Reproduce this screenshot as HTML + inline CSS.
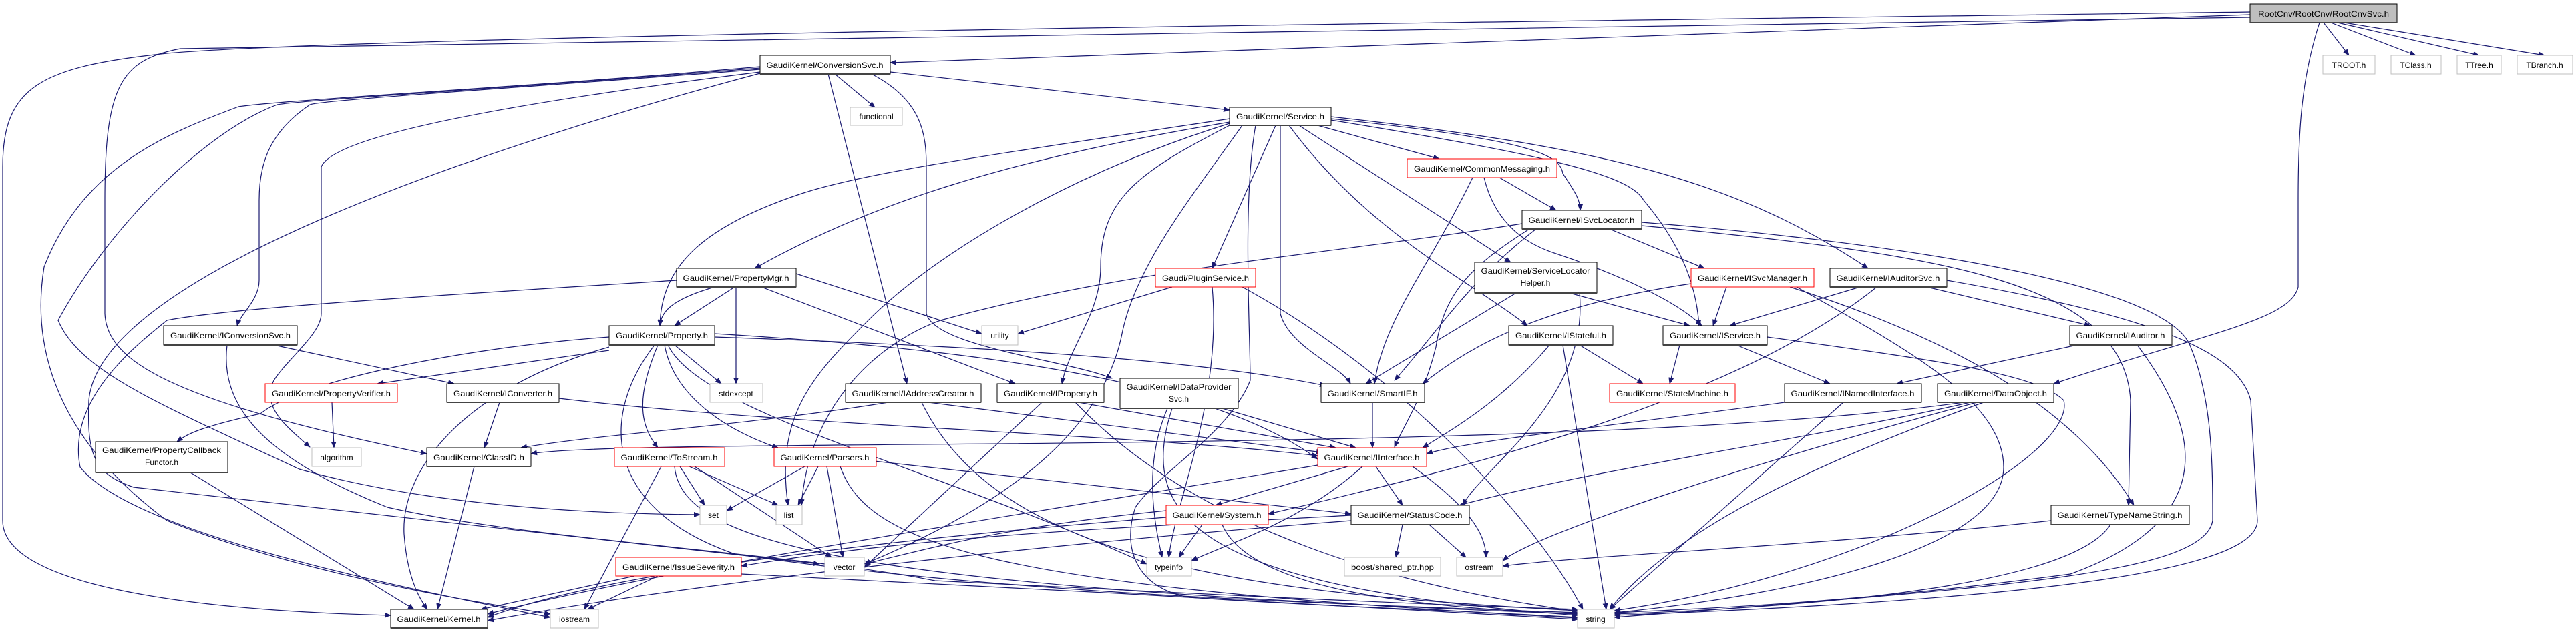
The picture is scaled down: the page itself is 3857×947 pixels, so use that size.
<!DOCTYPE html>
<html><head><meta charset="utf-8"><style>
html,body{margin:0;padding:0;background:#fff;}
svg{display:block;}
text{font-family:"Liberation Sans",sans-serif;font-size:12px;fill:#000;}
.e{fill:none;stroke:#191970;stroke-width:1.2;marker-end:url(#a);}
.n rect{fill:#fff;stroke:#000;stroke-width:1;}
.l rect{fill:#fff;stroke:#bfbfbf;stroke-width:1;}
.r rect{fill:#fff;stroke:#ff0000;stroke-width:1;}
.sh{stroke:#444;stroke-width:2;}
</style></head><body>
<svg width="3857" height="947" viewBox="0 0 3857 947" xmlns="http://www.w3.org/2000/svg">
<defs><marker id="a" markerWidth="10" markerHeight="8" refX="9" refY="4" orient="auto" markerUnits="userSpaceOnUse"><path d="M0,0 L10,4 L0,8 z" fill="#191970"/></marker></defs>
<g>
<!-- Root -->
<path class="e" d="M3479,34 L3517,83"/>
<path class="e" d="M3490,34 L3617,83"/>
<path class="e" d="M3500,34 L3712,83"/>
<path class="e" d="M3510,34 L3810,83"/>
<path class="e" d="M3369,22 L1333,94"/>
<path class="e" d="M3473,34 C3445,120 3441,200 3441,300 L3441,430 C3430,480 3300,500 3075,575"/>
<path class="e" d="M3369,18 C2500,30 600,50 250,80 C60,100 4,130 4,250 L4,780 C4,880 300,915 585,922"/>
<path class="e" d="M3369,26 C2500,40 1000,60 270,73 C180,90 157,130 157,300 L157,470 C160,540 250,600 639,680"/>
<!-- ConversionSvc -->
<path class="e" d="M1333,108 L1841,165"/>
<path class="e" d="M1250,111 L1310,161"/>
<path class="e" d="M1138,100 C800,130 420,150 357,160 C250,200 124,250 66,400 C40,560 124,687 250,780 C450,860 700,900 824,920"/>
<path class="e" d="M1138,102 C800,130 450,150 415,157 C300,200 157,350 87,480 C120,560 257,613 448,703 C650,760 900,770 1048,771"/>
<path class="e" d="M1138,104 C800,130 480,150 464,157 C400,200 388,250 388,300 L388,420 C388,450 360,470 355,488"/>
<path class="e" d="M1138,108 C800,150 500,200 481,250 L481,470 C481,500 431,537 410,570 C390,610 430,640 464,670"/>
<path class="e" d="M1138,110 C800,200 150,400 133,600 C130,680 140,710 200,730 L1227,845"/>
<path class="e" d="M1240,111 L1358,575"/>
<path class="e" d="M1305,111 C1380,150 1387,200 1387,250 L1387,470 C1400,520 1600,540 1665,567"/>
<!-- Service -->
<path class="e" d="M1841,178 C1500,230 1300,257 1200,290 C1050,340 990,400 988,488"/>
<path class="e" d="M1841,183 C1500,240 1300,307 1130,402"/>
<path class="e" d="M1841,185 C1600,260 1400,380 1300,480 C1220,560 1160,620 1180,757"/>
<path class="e" d="M1841,188 C1700,260 1648,300 1648,400 C1648,470 1600,520 1590,575"/>
<path class="e" d="M1860,188 C1780,300 1700,400 1680,500 C1650,650 1500,760 1294,845"/>
<path class="e" d="M1910,188 L1815,402"/>
<path class="e" d="M1917,188 L1917,470 C1930,520 2010,550 2022,575"/>
<path class="e" d="M1930,188 C2050,350 2200,420 2287,488"/>
<path class="e" d="M1945,188 L2262,393"/>
<path class="e" d="M1973,188 L2155,238"/>
<path class="e" d="M1993,178 C2300,210 2336,233 2340,260 C2360,290 2366,300 2366,315"/>
<path class="e" d="M1993,180 C2300,230 2440,260 2461,300 C2520,370 2540,430 2544,488"/>
<path class="e" d="M1993,175 C2400,220 2600,270 2797,402"/>
<path class="e" d="M1880,188 C1860,300 1872,500 1872,570 C1840,650 1740,703 1700,760 C1680,820 1700,880 1780,895 C2000,910 2200,915 2362,925"/>
<!-- CommonMessaging -->
<path class="e" d="M2245,266 L2330,315"/>
<path class="e" d="M2205,266 C2140,400 2071,480 2058,575"/>
<path class="e" d="M2222,266 C2240,340 2290,367 2330,380 C2450,420 2520,460 2548,488"/>
<!-- ISvcLocator -->
<path class="e" d="M2410,343 L2552,402"/>
<path class="e" d="M2458,333 C2800,360 3245,420 3280,520 C3313,600 3313,700 3313,780 C3300,860 3000,880 2417,925"/>
<path class="e" d="M2458,338 C2900,380 3180,420 3190,600 L3187,757"/>
<path class="e" d="M2279,335 C2000,380 1700,400 1408,480 C1300,520 1210,620 1200,757"/>
<path class="e" d="M2290,343 C2200,400 2162,440 2150,520 C2130,600 2100,640 2088,670"/>
<path class="e" d="M2300,343 C2200,420 2150,500 2088,570"/>
<!-- ISvcManager -->
<path class="e" d="M2585,430 L2565,488"/>
<path class="e" d="M2532,425 C2300,460 2200,520 2130,575"/>
<path class="e" d="M2680,430 C2900,500 3100,600 3195,757"/>
<path class="e" d="M2690,430 C2850,520 3000,600 3000,700 C3000,820 2700,890 2417,918"/>
<!-- IAuditorSvc -->
<path class="e" d="M2785,430 L2590,488"/>
<path class="e" d="M2885,430 L3130,488"/>
<path class="e" d="M2810,430 C2600,600 2200,700 1899,770"/>
<path class="e" d="M2915,420 C3200,470 3350,520 3370,600 L3380,780 C3380,860 3000,900 2417,922"/>
<!-- IStateful -->
<path class="e" d="M2365,517 L2460,575"/>
<path class="e" d="M2320,517 C2250,600 2180,640 2130,671"/>
<path class="e" d="M2340,517 L2405,913"/>
<!-- IService -->
<path class="e" d="M2515,517 L2500,575"/>
<path class="e" d="M2600,517 L2740,575"/>
<path class="e" d="M2646,505 C2900,540 3050,560 3090,600 C3110,680 2800,860 2417,915"/>
<!-- INamedInterface, IAuditor, DataObject, TypeNameString -->
<path class="e" d="M2672,603 C2400,640 2200,660 2136,680"/>
<path class="e" d="M2760,603 L2410,913"/>
<path class="e" d="M3110,517 L2840,575"/>
<path class="e" d="M3200,517 C3300,650 3320,780 3100,860 C2800,900 2600,910 2417,918"/>
<path class="e" d="M2940,603 C2600,650 2000,660 1500,665 C1100,668 850,670 795,680"/>
<path class="e" d="M2950,603 C2700,660 2400,700 2185,757"/>
<path class="e" d="M2960,603 C2600,700 2300,800 2250,840"/>
<path class="e" d="M2970,603 C2700,700 2500,800 2410,913"/>
<path class="e" d="M3071,780 C2700,820 2400,830 2250,848"/>
<path class="e" d="M3160,786 C3100,880 2700,910 2417,920"/>
<!-- SmartIF / IInterface -->
<path class="e" d="M2055,603 L2055,671"/>
<path class="e" d="M2018,699 L1820,757"/>
<path class="e" d="M2060,699 L2100,757"/>
<path class="e" d="M2040,699 C1950,780 1850,810 1784,840"/>
<path class="e" d="M2115,699 C2200,760 2225,800 2225,835"/>
<path class="e" d="M1973,697 C1600,760 1000,850 730,920"/>
<!-- System / StatusCode -->
<path class="e" d="M1746,775 C1300,810 900,860 730,925"/>
<path class="e" d="M1800,786 L1765,835"/>
<path class="e" d="M1830,786 C1870,880 2100,910 2362,920"/>
<path class="e" d="M1746,765 C1500,790 1400,820 1294,845"/>
<path class="e" d="M2100,786 L2090,835"/>
<path class="e" d="M2140,786 L2195,835"/>
<path class="e" d="M2023,772 C1700,790 1400,800 1110,848"/>
<path class="e" d="M2023,780 C1500,820 1000,880 730,930"/>
<!-- IssueSeverity -->
<path class="e" d="M950,863 L720,913"/>
<path class="e" d="M985,863 L880,913"/>
<path class="e" d="M1110,860 C1500,880 2000,905 2362,928"/>
<!-- PluginService -->
<path class="e" d="M1755,430 L1524,500"/>
<path class="e" d="M1815,430 C1830,600 1760,750 1750,835"/>
<path class="e" d="M1860,430 C2100,560 2300,780 2370,913"/>
<!-- ServiceLocatorHelper -->
<path class="e" d="M2270,439 L2045,575"/>
<path class="e" d="M2350,439 L2530,488"/>
<path class="e" d="M2365,439 C2380,600 2220,700 2190,757"/>
<!-- PropertyMgr -->
<path class="e" d="M1100,430 L1010,488"/>
<path class="e" d="M1070,430 C1000,450 990,470 988,488"/>
<path class="e" d="M1192,410 L1470,500"/>
<path class="e" d="M1102,430 L1102,575"/>
<path class="e" d="M1140,430 L1520,575"/>
<path class="e" d="M1013,420 C700,440 350,460 250,480 C200,520 100,600 120,700 C200,800 600,880 824,925"/>
<!-- Property -->
<path class="e" d="M912,525 L565,575"/>
<path class="e" d="M912,505 C700,520 450,570 390,620 C300,640 280,650 265,662"/>
<path class="e" d="M912,520 C700,580 600,700 605,800 C610,870 630,900 640,913"/>
<path class="e" d="M1010,517 L1080,575"/>
<path class="e" d="M985,517 C950,600 960,640 985,671"/>
<path class="e" d="M995,517 C1010,600 1100,650 1165,671"/>
<path class="e" d="M1070,505 C1500,520 1800,540 1985,578"/>
<path class="e" d="M1070,500 C1400,520 1800,560 1973,688"/>
<path class="e" d="M1000,517 C1050,620 1400,700 1717,845"/>
<path class="e" d="M980,517 C900,620 900,760 1100,830 C1500,890 2000,905 2362,918"/>
<!-- IConversionSvc etc -->
<path class="e" d="M410,517 L680,575"/>
<path class="e" d="M340,517 C330,600 380,680 580,760 C800,810 1200,830 1400,870 C1800,890 2100,905 2362,913"/>
<path class="e" d="M748,603 L725,671"/>
<path class="e" d="M837,597 C1200,640 1700,650 1973,683"/>
<path class="e" d="M497,603 L500,671"/>
<path class="e" d="M285,708 L620,913"/>
<path class="e" d="M710,699 L655,913"/>
<!-- ToStream -->
<path class="e" d="M1018,699 L1055,757"/>
<path class="e" d="M1032,699 L1165,757"/>
<path class="e" d="M1040,699 L1245,835"/>
<path class="e" d="M990,699 L875,913"/>
<path class="e" d="M1010,699 C1020,820 1300,880 2362,920"/>
<!-- Parsers -->
<path class="e" d="M1205,699 L1088,765"/>
<path class="e" d="M1225,699 L1195,757"/>
<path class="e" d="M1238,699 L1262,835"/>
<path class="e" d="M1300,690 L2023,770"/>
<path class="e" d="M1258,699 C1300,820 1500,880 2362,926"/>
<!-- IAddressCreator, IProperty, IDataProviderSvc -->
<path class="e" d="M1330,603 C1100,640 900,650 780,671"/>
<path class="e" d="M1390,603 L1980,678"/>
<path class="e" d="M1380,603 C1500,850 1900,890 2362,915"/>
<path class="e" d="M1615,603 L2000,671"/>
<path class="e" d="M1560,603 L1294,850"/>
<path class="e" d="M1610,603 C1800,800 2100,880 2362,916"/>
<path class="e" d="M1830,612 L2030,671"/>
<path class="e" d="M1748,612 C1710,700 1730,790 1740,835"/>
<path class="e" d="M1755,612 C1700,780 1800,880 2362,922"/>
</g>
<!-- Nodes -->
<g class="n"><rect x="3369" y="6" width="220" height="28" style="fill:#bfbfbf"/><line class="sh" x1="3369" y1="34" x2="3589" y2="34"/><text x="3479" y="25" text-anchor="middle" textLength="196" lengthAdjust="spacingAndGlyphs">RootCnv/RootCnv/RootCnvSvc.h</text></g>
<g class="l"><rect x="3478" y="83" width="78" height="28"/><text x="3517" y="102" text-anchor="middle">TROOT.h</text></g>
<g class="l"><rect x="3580" y="83" width="75" height="28"/><text x="3617" y="102" text-anchor="middle">TClass.h</text></g>
<g class="l"><rect x="3679" y="83" width="66" height="28"/><text x="3712" y="102" text-anchor="middle">TTree.h</text></g>
<g class="l"><rect x="3769" y="83" width="83" height="28"/><text x="3810" y="102" text-anchor="middle">TBranch.h</text></g>

<g class="n"><rect x="1138" y="83" width="195" height="28"/><line class="sh" x1="1138" y1="111" x2="1333" y2="111"/><text x="1235" y="102" text-anchor="middle" textLength="175" lengthAdjust="spacingAndGlyphs">GaudiKernel/ConversionSvc.h</text></g>
<g class="l"><rect x="1273" y="161" width="78" height="27"/><text x="1312" y="179" text-anchor="middle">functional</text></g>
<g class="n"><rect x="1841" y="161" width="152" height="27"/><line class="sh" x1="1841" y1="188" x2="1993" y2="188"/><text x="1917" y="179" text-anchor="middle" textLength="132" lengthAdjust="spacingAndGlyphs">GaudiKernel/Service.h</text></g>
<g class="r"><rect x="2107" y="238" width="224" height="28"/><text x="2219" y="257" text-anchor="middle" textLength="204" lengthAdjust="spacingAndGlyphs">GaudiKernel/CommonMessaging.h</text></g>
<g class="n"><rect x="2279" y="315" width="179" height="28"/><line class="sh" x1="2279" y1="343" x2="2458" y2="343"/><text x="2368" y="334" text-anchor="middle" textLength="159" lengthAdjust="spacingAndGlyphs">GaudiKernel/ISvcLocator.h</text></g>
<g class="r"><rect x="1730" y="402" width="150" height="28"/><text x="1805" y="421" text-anchor="middle" textLength="130" lengthAdjust="spacingAndGlyphs">Gaudi/PluginService.h</text></g>
<g class="n"><rect x="2208" y="393" width="183" height="46"/><line class="sh" x1="2208" y1="439" x2="2391" y2="439"/><text x="2299" y="410" text-anchor="middle" textLength="163" lengthAdjust="spacingAndGlyphs">GaudiKernel/ServiceLocator</text><text x="2299" y="428" text-anchor="middle">Helper.h</text></g>
<g class="r"><rect x="2532" y="402" width="184" height="28"/><text x="2624" y="421" text-anchor="middle" textLength="164" lengthAdjust="spacingAndGlyphs">GaudiKernel/ISvcManager.h</text></g>
<g class="n"><rect x="2740" y="402" width="175" height="28"/><line class="sh" x1="2740" y1="430" x2="2915" y2="430"/><text x="2827" y="421" text-anchor="middle" textLength="155" lengthAdjust="spacingAndGlyphs">GaudiKernel/IAuditorSvc.h</text></g>
<g class="n"><rect x="1013" y="402" width="179" height="28"/><line class="sh" x1="1013" y1="430" x2="1192" y2="430"/><text x="1102" y="421" text-anchor="middle" textLength="159" lengthAdjust="spacingAndGlyphs">GaudiKernel/PropertyMgr.h</text></g>

<g class="n"><rect x="245" y="488" width="200" height="29"/><line class="sh" x1="245" y1="517" x2="445" y2="517"/><text x="345" y="507" text-anchor="middle" textLength="180" lengthAdjust="spacingAndGlyphs">GaudiKernel/IConversionSvc.h</text></g>
<g class="n"><rect x="912" y="488" width="158" height="29"/><line class="sh" x1="912" y1="517" x2="1070" y2="517"/><text x="991" y="507" text-anchor="middle" textLength="138" lengthAdjust="spacingAndGlyphs">GaudiKernel/Property.h</text></g>
<g class="l"><rect x="1470" y="488" width="54" height="29"/><text x="1497" y="507" text-anchor="middle">utility</text></g>
<g class="n"><rect x="2259" y="488" width="156" height="29"/><line class="sh" x1="2259" y1="517" x2="2415" y2="517"/><text x="2337" y="507" text-anchor="middle" textLength="136" lengthAdjust="spacingAndGlyphs">GaudiKernel/IStateful.h</text></g>
<g class="n"><rect x="2490" y="488" width="156" height="29"/><line class="sh" x1="2490" y1="517" x2="2646" y2="517"/><text x="2568" y="507" text-anchor="middle" textLength="136" lengthAdjust="spacingAndGlyphs">GaudiKernel/IService.h</text></g>
<g class="n"><rect x="3099" y="488" width="153" height="29"/><line class="sh" x1="3099" y1="517" x2="3252" y2="517"/><text x="3175" y="507" text-anchor="middle" textLength="133" lengthAdjust="spacingAndGlyphs">GaudiKernel/IAuditor.h</text></g>

<g class="r"><rect x="397" y="575" width="198" height="28"/><text x="496" y="594" text-anchor="middle" textLength="178" lengthAdjust="spacingAndGlyphs">GaudiKernel/PropertyVerifier.h</text></g>
<g class="n"><rect x="669" y="575" width="168" height="28"/><line class="sh" x1="669" y1="603" x2="837" y2="603"/><text x="753" y="594" text-anchor="middle" textLength="148" lengthAdjust="spacingAndGlyphs">GaudiKernel/IConverter.h</text></g>
<g class="l"><rect x="1063" y="575" width="79" height="28"/><text x="1102" y="594" text-anchor="middle">stdexcept</text></g>
<g class="n"><rect x="1266" y="575" width="203" height="28"/><line class="sh" x1="1266" y1="603" x2="1469" y2="603"/><text x="1367" y="594" text-anchor="middle" textLength="183" lengthAdjust="spacingAndGlyphs">GaudiKernel/IAddressCreator.h</text></g>
<g class="n"><rect x="1493" y="575" width="160" height="28"/><line class="sh" x1="1493" y1="603" x2="1653" y2="603"/><text x="1573" y="594" text-anchor="middle" textLength="140" lengthAdjust="spacingAndGlyphs">GaudiKernel/IProperty.h</text></g>
<g class="n"><rect x="1677" y="567" width="177" height="45"/><line class="sh" x1="1677" y1="612" x2="1854" y2="612"/><text x="1765" y="584" text-anchor="middle" textLength="157" lengthAdjust="spacingAndGlyphs">GaudiKernel/IDataProvider</text><text x="1765" y="602" text-anchor="middle">Svc.h</text></g>
<g class="n"><rect x="1978" y="575" width="155" height="28"/><line class="sh" x1="1978" y1="603" x2="2133" y2="603"/><text x="2055" y="594" text-anchor="middle" textLength="135" lengthAdjust="spacingAndGlyphs">GaudiKernel/SmartIF.h</text></g>
<g class="r"><rect x="2410" y="575" width="188" height="28"/><text x="2504" y="594" text-anchor="middle" textLength="168" lengthAdjust="spacingAndGlyphs">GaudiKernel/StateMachine.h</text></g>
<g class="n"><rect x="2672" y="575" width="205" height="28"/><line class="sh" x1="2672" y1="603" x2="2877" y2="603"/><text x="2774" y="594" text-anchor="middle" textLength="185" lengthAdjust="spacingAndGlyphs">GaudiKernel/INamedInterface.h</text></g>
<g class="n"><rect x="2901" y="575" width="174" height="28"/><line class="sh" x1="2901" y1="603" x2="3075" y2="603"/><text x="2988" y="594" text-anchor="middle" textLength="154" lengthAdjust="spacingAndGlyphs">GaudiKernel/DataObject.h</text></g>

<g class="n"><rect x="143" y="662" width="198" height="46"/><line class="sh" x1="143" y1="708" x2="341" y2="708"/><text x="242" y="679" text-anchor="middle" textLength="178" lengthAdjust="spacingAndGlyphs">GaudiKernel/PropertyCallback</text><text x="242" y="697" text-anchor="middle">Functor.h</text></g>
<g class="l"><rect x="467" y="671" width="74" height="28"/><text x="504" y="690" text-anchor="middle">algorithm</text></g>
<g class="n"><rect x="639" y="671" width="156" height="28"/><line class="sh" x1="639" y1="699" x2="795" y2="699"/><text x="717" y="690" text-anchor="middle" textLength="136" lengthAdjust="spacingAndGlyphs">GaudiKernel/ClassID.h</text></g>
<g class="r"><rect x="920" y="671" width="165" height="28"/><text x="1002" y="690" text-anchor="middle" textLength="145" lengthAdjust="spacingAndGlyphs">GaudiKernel/ToStream.h</text></g>
<g class="r"><rect x="1159" y="671" width="153" height="28"/><text x="1235" y="690" text-anchor="middle" textLength="133" lengthAdjust="spacingAndGlyphs">GaudiKernel/Parsers.h</text></g>
<g class="r"><rect x="1973" y="671" width="163" height="28"/><text x="2054" y="690" text-anchor="middle" textLength="143" lengthAdjust="spacingAndGlyphs">GaudiKernel/IInterface.h</text></g>

<g class="l"><rect x="1048" y="757" width="40" height="29"/><text x="1068" y="776" text-anchor="middle">set</text></g>
<g class="l"><rect x="1162" y="757" width="39" height="29"/><text x="1181" y="776" text-anchor="middle">list</text></g>
<g class="r"><rect x="1746" y="757" width="153" height="29"/><text x="1822" y="776" text-anchor="middle" textLength="133" lengthAdjust="spacingAndGlyphs">GaudiKernel/System.h</text></g>
<g class="n"><rect x="2023" y="757" width="177" height="29"/><line class="sh" x1="2023" y1="786" x2="2200" y2="786"/><text x="2111" y="776" text-anchor="middle" textLength="157" lengthAdjust="spacingAndGlyphs">GaudiKernel/StatusCode.h</text></g>
<g class="n"><rect x="3071" y="757" width="207" height="29"/><line class="sh" x1="3071" y1="786" x2="3278" y2="786"/><text x="3174" y="776" text-anchor="middle" textLength="187" lengthAdjust="spacingAndGlyphs">GaudiKernel/TypeNameString.h</text></g>

<g class="l"><rect x="1235" y="835" width="59" height="28"/><text x="1264" y="854" text-anchor="middle">vector</text></g>
<g class="r"><rect x="922" y="835" width="188" height="28"/><text x="1016" y="854" text-anchor="middle" textLength="168" lengthAdjust="spacingAndGlyphs">GaudiKernel/IssueSeverity.h</text></g>
<g class="l"><rect x="1717" y="835" width="67" height="28"/><text x="1750" y="854" text-anchor="middle">typeinfo</text></g>
<g class="l"><rect x="2013" y="835" width="144" height="28"/><text x="2085" y="854" text-anchor="middle" textLength="124" lengthAdjust="spacingAndGlyphs">boost/shared_ptr.hpp</text></g>
<g class="l"><rect x="2181" y="835" width="69" height="28"/><text x="2215" y="854" text-anchor="middle">ostream</text></g>

<g class="n"><rect x="585" y="913" width="145" height="28"/><line class="sh" x1="585" y1="941" x2="730" y2="941"/><text x="657" y="932" text-anchor="middle" textLength="125" lengthAdjust="spacingAndGlyphs">GaudiKernel/Kernel.h</text></g>
<g class="l"><rect x="824" y="913" width="72" height="28"/><text x="860" y="932" text-anchor="middle">iostream</text></g>
<g class="l"><rect x="2362" y="913" width="55" height="28"/><text x="2389" y="932" text-anchor="middle">string</text></g>
</svg>
</body></html>
